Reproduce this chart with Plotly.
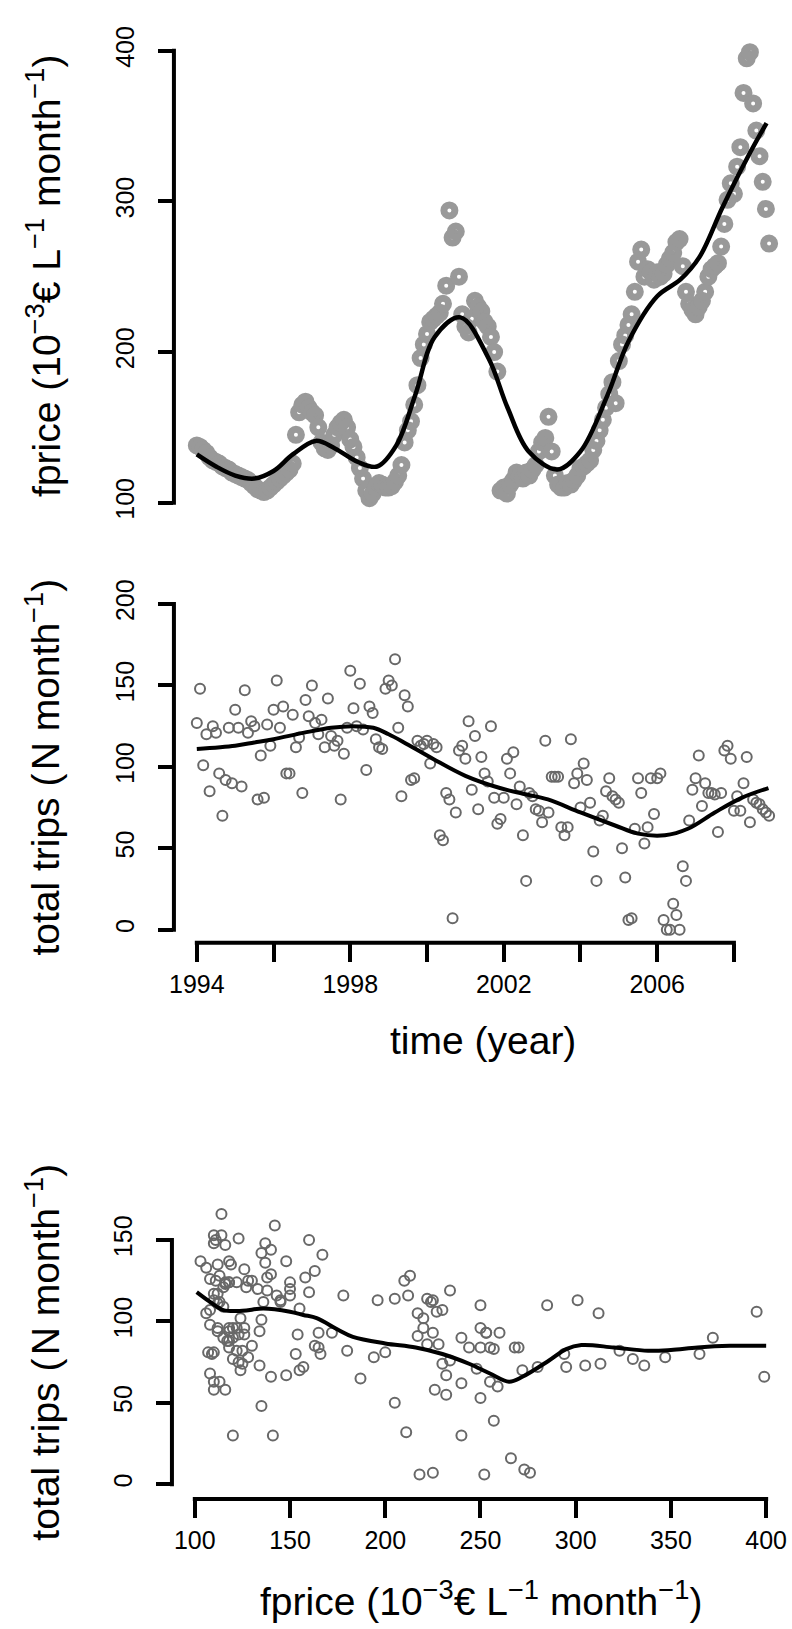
import numpy as np
import plotly.graph_objects as go

# ---------------------------------------------------------------- data
# monthly series, Jan 1994 .. Dec 2008
fprice = [
    138, 137, 135, 133, 130, 128, 127, 126, 124, 123, 122, 120,   # 1994
    119, 118, 117, 116, 115, 113, 111, 109, 108, 107, 108, 110,   # 1995
    112, 114, 116, 118, 120, 122, 126, 145, 160, 165, 167, 163,   # 1996
    160, 158, 150, 140, 136, 135, 138, 145, 150, 153, 155, 150,   # 1997
    142, 137, 130, 123, 116, 108, 103, 106, 110, 113, 112, 110,   # 1998
    110, 111, 114, 118, 125, 140, 148, 154, 165, 178, 196, 205,   # 1999
    212, 220, 222, 224, 226, 232, 244, 294, 276, 280, 250, 225,   # 2000
    217, 213, 222, 234, 230, 227, 220, 217, 210, 200, 187, 108,   # 2001
    110, 106, 112, 115, 120, 118, 116, 120, 118, 122, 125, 134,   # 2002
    140, 143, 157, 134, 118, 112, 110, 110, 113, 112, 115, 118,   # 2003
    123, 124, 126, 128, 135, 141, 148, 155, 163, 172, 180, 166,   # 2004
    194, 205, 211, 218, 225, 240, 260, 268, 250, 255, 253, 248,   # 2005
    253, 250, 252, 258, 262, 266, 273, 275, 257, 240, 232, 228,   # 2006
    225, 230, 234, 240, 250, 255, 257, 259, 270, 285, 301, 312,   # 2007
    305, 323, 336, 372, 395, 399, 365, 347, 330, 313, 295, 272,   # 2008
]

trips = [
    127, 148, 101, 120, 85, 125, 121, 96, 70, 92, 124, 90,        # 1994
    135, 124, 88, 147, 121, 128, 125, 80, 107, 81, 126, 113,      # 1995
    135, 153, 124, 137, 96, 96, 132, 112, 118, 84, 141, 131,      # 1996
    150, 127, 120, 129, 112, 142, 119, 113, 116, 80, 108, 124,    # 1997
    159, 136, 125, 151, 123, 98, 137, 133, 117, 112, 111, 148,    # 1998
    153, 150, 166, 124, 82, 144, 137, 92, 93, 116, 113, 114,      # 1999
    116, 102, 114, 112, 58, 55, 84, 80, 7, 72, 110, 113,          # 2000
    105, 128, 86, 119, 74, 106, 96, 91, 125, 81, 65, 68,          # 2001
    81, 105, 96, 109, 77, 88, 58, 30, 84, 82, 74, 73,             # 2002
    66, 116, 72, 94, 94, 94, 63, 58, 63, 117, 90, 96,             # 2003
    75, 102, 92, 78, 48, 30, 67, 70, 85, 93, 82, 80,              # 2004
    78, 50, 32, 6, 7, 62, 93, 84, 53, 63, 93, 71,                 # 2005
    93, 96, 6, 0, 0, 16, 9, 0, 39, 30, 67, 86,                    # 2006
    93, 107, 76, 90, 84, 84, 83, 60, 84, 110, 113, 105,           # 2007
    73, 82, 73, 90, 106, 66, 80, 78, 77, 74, 72, 70,              # 2008
]

start_year = 1994
time = start_year + np.arange(len(fprice)) / 12.0

# smoothed trends
fprice_trend_t = [1994.0, 1994.5, 1995.0, 1995.5, 1996.0, 1996.5, 1997.1, 1997.6,
                  1998.2, 1998.7, 1999.2, 1999.7, 2000.2, 2000.87, 2001.6, 2002.1,
                  2002.65, 2003.4, 2004.0, 2004.7, 2005.25, 2006.0, 2006.6, 2007.1,
                  2007.7, 2008.35, 2008.85]
fprice_trend = [132, 124, 118, 116, 121, 132, 141, 136, 127, 124, 138, 172, 210,
                223, 196, 163, 134, 122, 134, 171, 207, 237, 248, 263, 296, 329, 352]

trips_trend_t = [1994.0, 1995.0, 1995.5, 1996.0, 1996.8, 1997.5, 1998.05, 1998.6,
                 1999.0, 1999.4, 2000.15, 2001.0, 2001.9, 2002.5, 2003.15, 2004.0,
                 2004.9, 2005.5, 2006.2, 2006.8, 2007.5, 2008.2, 2008.9]
trips_trend = [111, 113, 115, 117, 121, 124, 125, 124, 120, 115, 105, 94.5, 87,
               83.5, 80, 72, 64, 59, 58, 62, 72, 81, 87]

price_trend_x = [101, 108, 115, 125, 136, 150, 157, 164, 175, 183, 200, 216, 230,
                 244, 255, 265, 272, 286, 295, 303, 320, 338, 350, 364, 381, 400]
price_trend_y = [118, 112, 107, 106.5, 108, 106, 104, 102, 95, 90.5, 86.5, 84, 80,
                 74, 68, 63, 66, 76, 83, 85.5, 84, 82, 82.5, 84, 85, 85]

fprice_ticks = [100, 200, 300, 400]
trips_ticks_mid = [0, 50, 100, 150, 200]
year_ticks = [1994, 1996, 1998, 2000, 2002, 2004, 2006, 2008]
year_labels = ["1994", "", "1998", "", "2002", "", "2006", ""]
price_ticks = [100, 150, 200, 250, 300, 350, 400]
trips_ticks_bot = [0, 50, 100, 150]

# ---------------------------------------------------------------- layout
W, H = 792, 1629
FONT = "Liberation Sans, Arial, sans-serif"
TICK_SIZE = 25
TITLE_SIZE = 39
AX_W = 4


def ext(lo, hi, f=0.04):
    d = (hi - lo) * f
    return [lo - d, hi + d]


def px_dom(a, b, size):
    return [a / size, b / size]


def py_dom(top, bottom):
    return [1 - bottom / H, 1 - top / H]


trips_arr = np.array(trips)
fprice_arr = np.array(fprice)
keep = trips_arr > 0

time_range = ext(time.min(), time.max())
top_yrange = ext(100, 400)
mid_yrange = ext(0, 200)
bot_xrange = ext(100, 400)
bot_yrange = [-9.0, 171.6]

top_xdom = px_dom(170, 792, W)
top_ydom = py_dom(21.8, 513.2)
mid_xdom = top_xdom
mid_ydom = py_dom(583.9, 938.1)
bot_xdom = px_dom(168, 789, W)
bot_ydom = py_dom(1202.0, 1498.0)

grey_thick = "#999999"
grey_open = "#686868"

fig = go.Figure()

# top panel: fuel price over time
fig.add_trace(go.Scatter(
    x=time, y=fprice, mode="markers", xaxis="x", yaxis="y", cliponaxis=False,
    marker=dict(symbol="circle-open", size=11, color=grey_thick,
                line=dict(width=7, color=grey_thick))))
fig.add_trace(go.Scatter(
    x=fprice_trend_t, y=fprice_trend, mode="lines", xaxis="x", yaxis="y",
    line=dict(color="black", width=4.5, shape="spline", smoothing=1.0)))

# middle panel: trips over time
fig.add_trace(go.Scatter(
    x=time, y=trips, mode="markers", xaxis="x2", yaxis="y2", cliponaxis=False,
    marker=dict(symbol="circle-open", size=10, color=grey_open,
                line=dict(width=2, color=grey_open))))
fig.add_trace(go.Scatter(
    x=trips_trend_t, y=trips_trend, mode="lines", xaxis="x2", yaxis="y2",
    line=dict(color="black", width=4, shape="spline", smoothing=1.0)))

# bottom panel: trips against fuel price
fig.add_trace(go.Scatter(
    x=fprice_arr[keep], y=trips_arr[keep], mode="markers", xaxis="x3", yaxis="y3",
    cliponaxis=False,
    marker=dict(symbol="circle-open", size=10, color=grey_open,
                line=dict(width=2, color=grey_open))))
fig.add_trace(go.Scatter(
    x=price_trend_x, y=price_trend_y, mode="lines", xaxis="x3", yaxis="y3",
    line=dict(color="black", width=4, shape="spline", smoothing=1.0)))

tickfont = dict(family=FONT, size=TICK_SIZE, color="black")


def yax(dom, rng, ticks, anchor):
    return dict(domain=dom, range=rng, anchor=anchor, tickmode="array",
                tickvals=ticks, ticktext=[str(t) for t in ticks],
                ticks="outside", ticklen=15, tickwidth=AX_W, tickcolor="black",
                tickangle=-90, tickfont=tickfont, ticklabelstandoff=14,
                showline=False, showgrid=False, zeroline=False, fixedrange=True)


def xax(dom, rng, ticks, labels, anchor):
    return dict(domain=dom, range=rng, anchor=anchor, tickmode="array",
                tickvals=ticks, ticktext=labels,
                ticks="outside", ticklen=18, tickwidth=AX_W, tickcolor="black",
                tickfont=tickfont, ticklabelstandoff=1,
                showline=False, showgrid=False, zeroline=False, fixedrange=True)


fig.update_layout(
    width=W, height=H, margin=dict(l=0, r=0, t=0, b=0),
    paper_bgcolor="white", plot_bgcolor="white", showlegend=False,
    font=dict(family=FONT, color="black"),
    xaxis=dict(domain=top_xdom, range=time_range, anchor="y", visible=False),
    yaxis=yax(top_ydom, top_yrange, fprice_ticks, "x"),
    xaxis2=xax(mid_xdom, time_range, year_ticks, year_labels, "y2"),
    yaxis2=yax(mid_ydom, mid_yrange, trips_ticks_mid, "x2"),
    xaxis3=xax(bot_xdom, bot_xrange, price_ticks, [str(t) for t in price_ticks], "y3"),
    yaxis3=yax(bot_ydom, bot_yrange, trips_ticks_bot, "x3"),
)


# axis lines running from the first to the last tick, as in base R graphics
def to_paper(v, dom, rng):
    return dom[0] + (v - rng[0]) / (rng[1] - rng[0]) * (dom[1] - dom[0])


def vline(xdom, ydom, yrng, ticks):
    pad = 2.0 / H
    return dict(type="line", xref="paper", yref="paper",
                x0=xdom[0], x1=xdom[0],
                y0=to_paper(min(ticks), ydom, yrng) - pad,
                y1=to_paper(max(ticks), ydom, yrng) + pad,
                line=dict(color="black", width=AX_W))


def hline(xdom, xrng, ydom, ticks):
    pad = 2.0 / W
    return dict(type="line", xref="paper", yref="paper",
                y0=ydom[0], y1=ydom[0],
                x0=to_paper(min(ticks), xdom, xrng) - pad,
                x1=to_paper(max(ticks), xdom, xrng) + pad,
                line=dict(color="black", width=AX_W))


fig.update_layout(shapes=[
    vline(top_xdom, top_ydom, top_yrange, fprice_ticks),
    vline(mid_xdom, mid_ydom, mid_yrange, trips_ticks_mid),
    hline(mid_xdom, time_range, mid_ydom, year_ticks),
    vline(bot_xdom, bot_ydom, bot_yrange, trips_ticks_bot),
    hline(bot_xdom, bot_xrange, bot_ydom, price_ticks),
])

price_label = "fprice (10<sup>\u22123</sup>\u20ac L<sup>\u22121</sup> month<sup>\u22121</sup>)"
trips_label = "total trips (\u200aN month<sup>\u22121</sup>)"
title_font = dict(family=FONT, size=TITLE_SIZE, color="black")


def label(text, x, y, angle=0):
    return dict(text=text, x=x / W, y=1 - y / H, xref="paper", yref="paper",
                showarrow=False, textangle=angle, font=title_font,
                xanchor="center", yanchor="middle")


fig.update_layout(annotations=[
    label(price_label, 38, 267, -90),
    label(trips_label, 38, 761, -90),
    label("time (year)", 481, 1036),
    label(trips_label, 38, 1350, -90),
    label(price_label, 479, 1598),
])

fig.write_html("out.html")
